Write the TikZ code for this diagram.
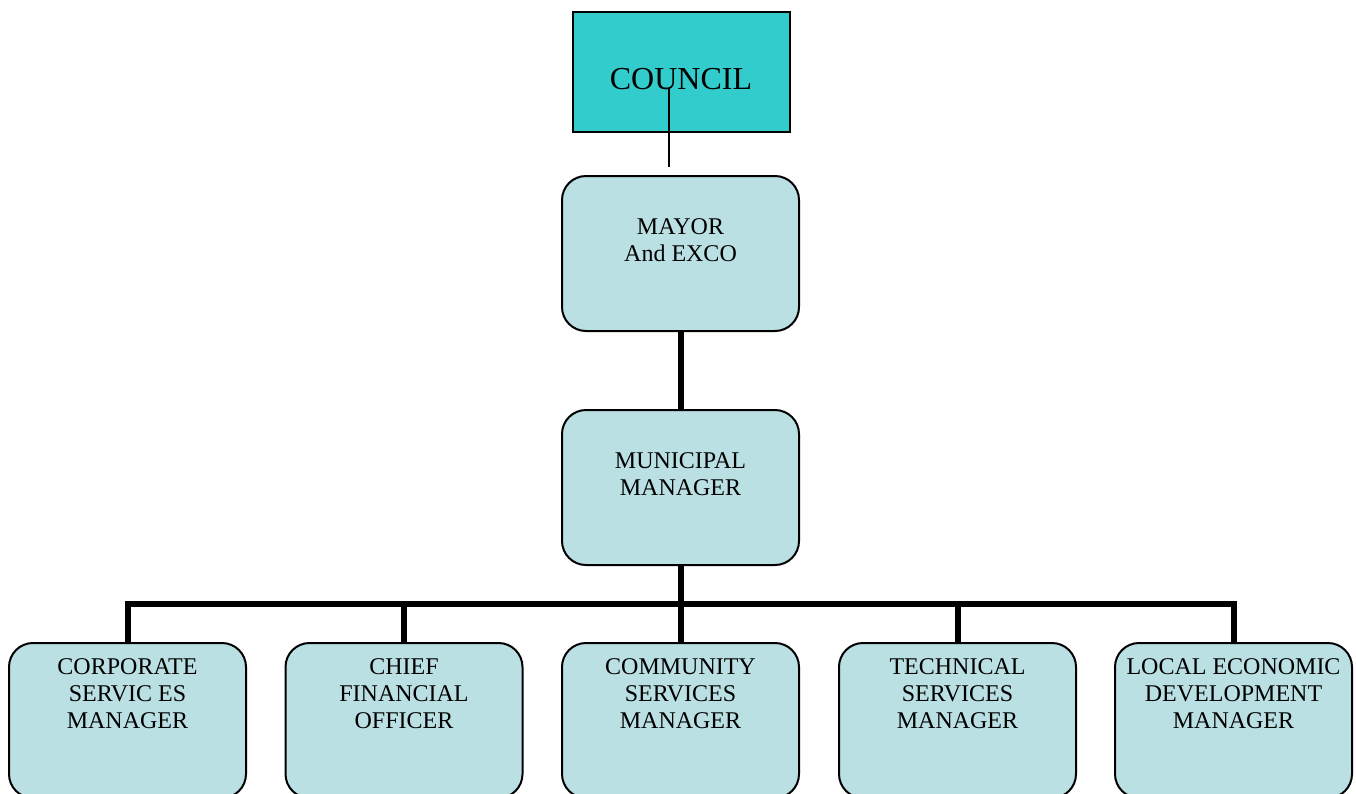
\documentclass[tikz,border=0pt]{standalone}
\usepackage{fontspec}
\setmainfont{Liberation Serif}
\definecolor{councilc}{HTML}{33CCCC}
\definecolor{boxc}{HTML}{BAE0E4}
\begin{document}
\begin{tikzpicture}[x=0.75pt,y=-0.75pt,
  roundbox/.style={draw=black,line width=1.5pt,fill=boxc,rounded corners=18pt,
    minimum width=177.75pt,minimum height=116.25pt,inner sep=0pt},
  lbl/.style={anchor=north,inner sep=0pt,align=center,font=\fontsize{18}{20.25}\selectfont},
  thickline/.style={line width=4.5pt,line join=miter},
  thinline/.style={line width=1.1pt}]
\clip (0,0) rectangle (1356,793);
\useasboundingbox (0,0) rectangle (1356,793);
% council
\node[draw=black,line width=1.5pt,fill=councilc,minimum width=162.75pt,minimum height=90pt,inner sep=0pt] (council) at (681.5,72) {};
\node[anchor=north,inner sep=0pt,font=\fontsize{24}{28}\selectfont] (councilt) at (681,68.5) {COUNCIL};
% boxes
\node[roundbox] (mayor) at (680.5,253.5) {};
\node[lbl] (mayort) at (680.5,218) {MAYOR\\And EXCO};
\node[roundbox] (mm) at (680.5,487.5) {};
\node[lbl] (mmt) at (680.5,452) {MUNICIPAL\\MANAGER};
\node[roundbox] (c1) at (127.5,720.5) {};
\node[lbl] (c1t) at (127.5,658) {CORPORATE\\SERVIC ES\\MANAGER};
\node[roundbox] (c2) at (404,720.5) {};
\node[lbl] (c2t) at (404,658) {CHIEF\\FINANCIAL\\OFFICER};
\node[roundbox] (c3) at (680.5,720.5) {};
\node[lbl] (c3t) at (680.5,658) {COMMUNITY\\SERVICES\\MANAGER};
\node[roundbox] (c4) at (957.5,720.5) {};
\node[lbl] (c4t) at (957.5,658) {TECHNICAL\\SERVICES\\MANAGER};
\node[roundbox] (c5) at (1233.5,720.5) {};
\node[lbl] (c5t) at (1233.5,658) {LOCAL ECONOMIC\\DEVELOPMENT\\MANAGER};
% connectors
\coordinate (ctop) at (669,88);
\coordinate (cbot) at (669,167);
\draw[thinline] (ctop) -- (cbot);
\draw[thickline] (mayor.south) -- (mm.north);
\coordinate (bus) at (680.5,604);
\draw[thickline] (mm.south) -- (bus);
\draw[thickline] (bus) -| (c1.north);
\draw[thickline] (bus) -| (c2.north);
\draw[thickline] (bus) -- (c3.north);
\draw[thickline] (bus) -| (c4.north);
\draw[thickline] (bus) -| (c5.north);
\end{tikzpicture}
\end{document}
